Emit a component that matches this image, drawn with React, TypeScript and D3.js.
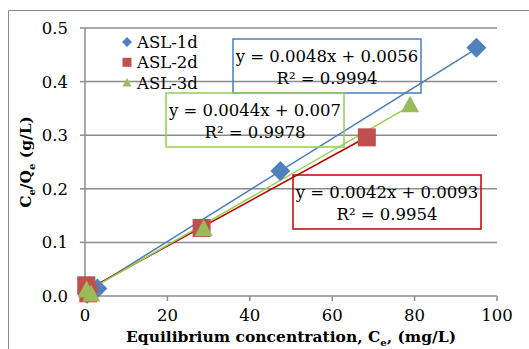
import React from 'react';
import * as d3 from 'd3';

// data
const series1d = [[0.5, 0.004], [3, 0.014], [47.4, 0.233], [95, 0.463]];
const series2d = [[0.3, 0.02], [0.8, 0.005], [28.3, 0.127], [68.4, 0.296]];
const series3d = [[0.4, 0.012], [1.5, 0.004], [28.8, 0.126], [78.9, 0.357]];
const seriesNames = ['ASL-1d', 'ASL-2d', 'ASL-3d'];
const slopes = [0.0048, 0.0042, 0.0044];
const intercepts = [0.0056, 0.0093, 0.007];
const equations = ['y = 0.0048x + 0.0056', 'y = 0.0042x + 0.0093', 'y = 0.0044x + 0.007'];
const rSquared = ['R² = 0.9994', 'R² = 0.9954', 'R² = 0.9978'];
const xTicks = [0, 20, 40, 60, 80, 100];
const yTicks = [0, 0.1, 0.2, 0.3, 0.4, 0.5];

const markerColors = ['#4F81BD', '#C0504D', '#9BBB59'];
const lineColors = ['#4A7EBB', '#C00000', '#92D050'];
const FONT = "'DejaVu Serif', serif";
const FS = 16.5;
const TITLE_FS = 15.5;

const W = 529;
const H = 349;
const plot = { left: 85, right: 497, top: 28, bottom: 296 };

function Marker({ type, x, y, size, color }: { type: number; x: number; y: number; size: number; color: string }) {
  const h = size / 2;
  if (type === 0) {
    return <path d={`M${x},${y - h}L${x + h},${y}L${x},${y + h}L${x - h},${y}Z`} fill={color} />;
  }
  if (type === 1) {
    return <rect x={x - h} y={y - h} width={size} height={size} fill={color} />;
  }
  return <path d={`M${x},${y - h}L${x + h},${y + h * 0.85}L${x - h},${y + h * 0.85}Z`} fill={color} />;
}

export default function App() {
  const x = d3.scaleLinear().domain([0, 100]).range([plot.left, plot.right]);
  const y = d3.scaleLinear().domain([0, 0.5]).range([plot.bottom, plot.top]);
  const allSeries = [series1d, series2d, series3d];
  const line = d3.line<number[]>().x(d => x(d[0])).y(d => y(d[1]));

  // equation label boxes: [x0, y0, x1, y1] in px
  const boxes = [
    [233, 39, 421, 93],
    [293, 175, 481, 229],
    [166, 93, 344, 147],
  ];

  return (
    <div style={{ position: 'fixed', left: 0, top: 0, width: W, height: H, background: '#fff' }}>
      <svg width={W} height={H} style={{ display: 'block', fontFamily: FONT }}>
        <rect width={W} height={H} fill="#fff" />
        {/* chart area border */}
        <path d={`M8.5,${H}V10.5H${W}`} fill="none" stroke="#8a8a8a" strokeWidth={1} />

        {/* gridlines */}
        {yTicks.filter(t => t > 0).map(t => (
          <line key={t} x1={plot.left} x2={plot.right} y1={y(t)} y2={y(t)} stroke="#8c8c8c" strokeWidth={1.5} />
        ))}
        {/* axes */}
        <line x1={plot.left} x2={plot.left} y1={plot.top} y2={plot.bottom} stroke="#8c8c8c" strokeWidth={1.5} />
        <line x1={plot.left} x2={plot.right} y1={plot.bottom} y2={plot.bottom} stroke="#8c8c8c" strokeWidth={1.5} />
        {yTicks.map(t => (
          <g key={t}>
            <line x1={plot.left - 5} x2={plot.left} y1={y(t)} y2={y(t)} stroke="#8c8c8c" strokeWidth={1.5} />
            <text x={68} y={y(t) + 6} textAnchor="end" fontSize={FS}>{t.toFixed(1)}</text>
          </g>
        ))}
        {xTicks.map(t => (
          <g key={t}>
            <line x1={x(t)} x2={x(t)} y1={plot.bottom} y2={plot.bottom + 5} stroke="#8c8c8c" strokeWidth={1.5} />
            <text x={x(t)} y={321} textAnchor="middle" fontSize={FS}>{t}</text>
          </g>
        ))}

        {/* trendlines */}
        {allSeries.map((s, i) => {
          const xs = d3.extent(s, d => d[0]) as [number, number];
          const pts = xs.map(v => [v, slopes[i] * v + intercepts[i]]);
          return <path key={i} d={line(pts) || ''} fill="none" stroke={lineColors[i]} strokeWidth={1.5} />;
        })}

        {/* points */}
        {allSeries.map((s, i) => (
          <g key={i}>
            {s.map((d, j) => (
              <Marker key={j} type={i} x={x(d[0])} y={y(d[1])} size={i === 0 ? 20 : 18} color={markerColors[i]} />
            ))}
          </g>
        ))}

        {/* legend */}
        {seriesNames.map((n, i) => (
          <g key={n}>
            <Marker type={i} x={127} y={42 + i * 20.3} size={i === 0 ? 10 : 9} color={markerColors[i]} />
            <text x={137} y={48 + i * 20.3} fontSize={FS}>{n}</text>
          </g>
        ))}

        {/* equation labels */}
        {boxes.map((b, i) => {
          const cx = (b[0] + b[2]) / 2;
          return (
            <g key={i}>
              <rect x={b[0]} y={b[1]} width={b[2] - b[0]} height={b[3] - b[1]} fill="none" stroke={lineColors[i]} strokeWidth={1.5} />
              <text x={cx} y={b[1] + 23} textAnchor="middle" fontSize={FS}>{equations[i]}</text>
              <text x={cx} y={b[1] + 45} textAnchor="middle" fontSize={FS}>{rSquared[i]}</text>
            </g>
          );
        })}

        {/* axis titles */}
        <text transform={`translate(31,${(plot.top + plot.bottom) / 2}) rotate(-90)`} textAnchor="middle" fontSize={TITLE_FS} fontWeight="bold">
          C<tspan fontSize={10} dy={4}>e</tspan><tspan dy={-4}>/Q</tspan><tspan fontSize={10} dy={4}>e</tspan><tspan dy={-4}> (g/L)</tspan>
        </text>
        <text x={(plot.left + plot.right) / 2} y={342} textAnchor="middle" fontSize={TITLE_FS} fontWeight="bold">
          Equilibrium concentration, C<tspan fontSize={10} dy={4}>e</tspan><tspan dy={-4}>, (mg/L)</tspan>
        </text>
      </svg>
    </div>
  );
}
